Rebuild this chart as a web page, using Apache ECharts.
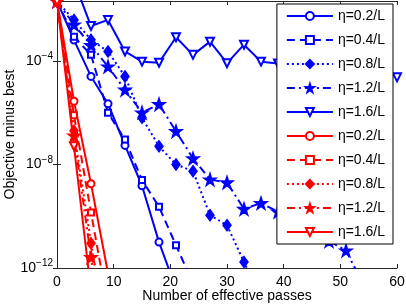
<!DOCTYPE html>
<html><head><meta charset="utf-8">
<script src="https://cdn.jsdelivr.net/npm/echarts@6/dist/echarts.min.js"></script>
<style>html,body{margin:0;padding:0;background:#fff}#c{width:406px;height:305px}</style>
</head><body><div id="c"></div>
<script>
// effective passes at which each run was recorded
const passes = [0,3,6,9,12,15,18,21,24,27,30,33,36,39,42,45,48,51,54,57,60];
const legendLabels = ['η=0.2/L','η=0.4/L','η=0.8/L','η=1.2/L','η=1.6/L','η=0.2/L','η=0.4/L','η=0.8/L','η=1.2/L','η=1.6/L'];
const xTicks = [0,10,20,30,40,50,60];
const yTickExponents = [-12,-8,-4];

// objective minus best (blue runs)
const blue02 = [0.02,6.3e-4,2.5e-5,2.2e-6,5.4e-8,1.5e-9,1.0e-11,1.6e-13];
const blue04 = [0.02,8.5e-4,1.7e-4,9.8e-7,9.1e-8,2.5e-9,2.3e-10,7.6e-12,2.5e-13];
const blue08 = [0.02,3.8e-3,6.5e-4,2.3e-4,2.5e-5,6.3e-7,5.0e-8,1.0e-8,5.5e-9,1.1e-10,4.5e-11,1.7e-12,6.3e-14];
const blue12 = [0.02,2.5e-3,4.0e-4,6.0e-5,7.6e-6,1.0e-6,2.1e-6,1.9e-7,1.7e-8,2.6e-9,2.0e-9,1.9e-10,3.2e-10,1.5e-10,7.6e-11,3.0e-11,1.1e-11,4.7e-12,2.5e-13];
const blue16 = [0.02,0.117,2.2e-3,3.8e-3,2.3e-4,9.3e-5,8.5e-5,8.1e-4,1.7e-4,5.5e-4,8.1e-5,4.2e-4,9.3e-5,7.9e-5,4.0e-4,1.0e-4,3.2e-4,6.3e-5,2.5e-4,5.0e-5,2.3e-5];
// red runs
const red02 = [0.02,2.75e-6,1.8e-9,6.3e-13];
const red04 = [0.02,7.9e-7,1.4e-10,3.2e-14];
const red08 = [0.02,2.0e-7,9.1e-12,1.0e-15];
const red12 = [0.02,1.3e-7,2.6e-12,1.0e-16];
const red16 = [0.02,5.0e-8,1.3e-13];

const yMin = 1e-12, yMax = 0.0204;

const starPath = 'path://M50,0 L61.8,35.3 L99,35.3 L69,57.3 L80.3,92.7 L50,70.9 L19.7,92.7 L31,57.3 L1,35.3 L38.2,35.3 Z';
const styles = [
  {symbol:'emptyCircle', size:7, type:'solid'},
  {symbol:'emptyRect', size:6, type:[8,5]},
  {symbol:'diamond', size:[8,11], type:[2,3]},
  {symbol:starPath, size:12, type:[8,4,2,4]},
  {symbol:'emptyTriangle', size:8, type:'solid', rotate:180}
];
const blueSets = [blue02,blue04,blue08,blue12,blue16];
const redSets = [red02,red04,red08,red12,red16];
const series = [];
function mk(id, color, vals, st){
  return {
    name:id, type:'line', xAxisIndex:0, yAxisIndex:0,
    data: vals.map((v,i)=>[passes[i], v]),
    symbol: st.symbol, symbolSize: st.size, symbolRotate: st.rotate||0,
    showAllSymbol:true, clip:true, animation:false,
    lineStyle:{color:color, width:2, type:st.type},
    itemStyle:{color:color, borderColor:color, borderWidth:1.5}
  };
}
blueSets.forEach((v,i)=>series.push(mk('b'+i,'#0000ff',v,styles[i])));
redSets.forEach((v,i)=>series.push(mk('r'+i,'#ff0000',v,styles[i])));
const ids = series.map(s=>s.name);

const axisLine = {show:true, lineStyle:{color:'#262626', width:1}};
const tick = {show:true, inside:true, length:4, lineStyle:{color:'#262626'}};
const font = 'Liberation Sans';

const chart = echarts.init(document.getElementById('c'), null, {renderer:'canvas'});
chart.setOption({
  animation:false,
  backgroundColor:'#fff',
  grid:{left:57, right:9, top:1, bottom:37, containLabel:false, outerBoundsMode:'none'},
  xAxis:[
    {type:'value', position:'bottom', min:0, max:60, interval:10,
     axisLine:axisLine, axisTick:tick, splitLine:{show:false},
     axisLabel:{color:'#000', fontFamily:font, fontSize:14, margin:7,
       formatter:v=>xTicks.includes(v)?String(v):''},
     name:'Number of effective passes', nameLocation:'middle', nameGap:21, nameMoveOverlap:false,
     nameTextStyle:{color:'#000', fontFamily:font, fontSize:14}},
    {type:'value', position:'top', min:0, max:60, interval:10,
     axisLine:axisLine, axisTick:tick, axisLabel:{show:false}, splitLine:{show:false}}
  ],
  yAxis:[
    {type:'log', logBase:10, position:'left', min:yMin, max:yMax, interval:4,
     axisLine:axisLine, axisTick:tick, splitLine:{show:false}, minorTick:{show:false},
     axisLabel:{showMaxLabel:false, margin:4,
       formatter:v=>{const e=Math.round(Math.log10(v)); return yTickExponents.includes(e)?'{b|10}{e|−'+(-e)+'}':'';},
       rich:{b:{fontFamily:font, fontSize:14, color:'#000'}, e:{fontFamily:font, fontSize:10, color:'#000', padding:[0,0,9,0]}}},
     name:'Objective minus best', nameLocation:'middle', nameGap:40, nameMoveOverlap:false,
     nameTextStyle:{color:'#000', fontFamily:font, fontSize:14}},
    {type:'log', logBase:10, position:'right', min:yMin, max:yMax, interval:4,
     axisLine:axisLine, axisTick:tick, axisLabel:{show:false}, splitLine:{show:false}}
  ],
  legend:{
    orient:'vertical', right:13, top:4, z:10,
    data:ids, backgroundColor:'#fff', borderColor:'#000', borderWidth:1,
    padding:[5,8,5,9], itemWidth:46, itemHeight:10, itemGap:10,
    textStyle:{fontFamily:font, fontSize:14, color:'#000'},
    lineStyle:{width:2},
    formatter:n=>legendLabels[ids.indexOf(n)]
  },
  series:series
});
</script></body></html>
